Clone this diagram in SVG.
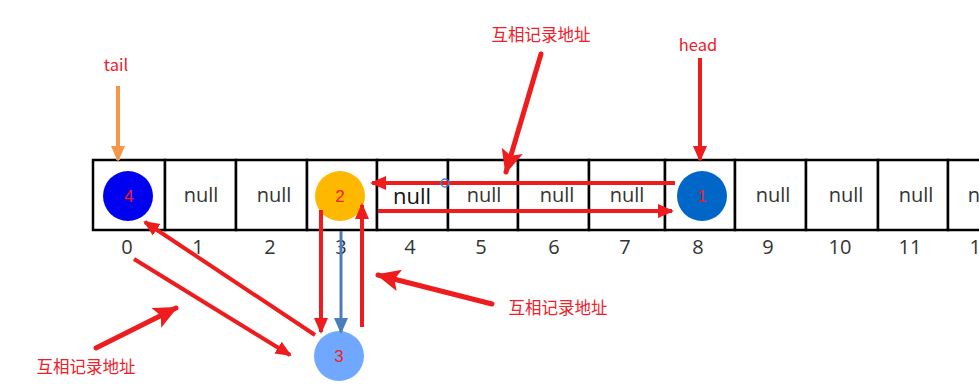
<svg xmlns="http://www.w3.org/2000/svg" width="979" height="391" viewBox="0 0 979 391">
<style>
.cell{fill:#fff;stroke:#000;stroke-width:2.5}
.null{font-family:"Open Sans","Liberation Sans",sans-serif;font-size:20px;fill:#333;text-anchor:middle}
.idx{font-family:"Open Sans","Liberation Sans",sans-serif;font-size:20px;fill:#333;text-anchor:middle}
.num{font-family:"Liberation Sans",sans-serif;font-size:17px;fill:#f02020;text-anchor:middle}
.lbl{font-family:"Noto Sans CJK SC","Open Sans",sans-serif;font-size:16.5px;fill:#f0202a;text-anchor:middle}
.red{stroke:#ee1c1c;stroke-width:4;fill:none}
.thick{stroke:#ee1c1c;stroke-width:5;fill:none;stroke-linecap:round}
</style>
<defs>
<marker id="ar" markerUnits="userSpaceOnUse" markerWidth="16" markerHeight="16" refX="14" refY="8" orient="auto"><path d="M0,1 L16,8 L0,15 Z" fill="#ee1c1c"/></marker>
<marker id="arb" markerUnits="userSpaceOnUse" markerWidth="24" markerHeight="24" refX="22" refY="12" orient="auto"><path d="M0,1 L24,12 L0,23 L5,12 Z" fill="#ee1c1c"/></marker>
<marker id="ao" markerUnits="userSpaceOnUse" markerWidth="16" markerHeight="16" refX="14" refY="8" orient="auto"><path d="M0,1 L16,8 L0,15 Z" fill="#f79646"/></marker>
<marker id="ab" markerUnits="userSpaceOnUse" markerWidth="16" markerHeight="16" refX="14" refY="8" orient="auto"><path d="M0,1 L16,8 L0,15 Z" fill="#4a7ebb"/></marker>
</defs>
<g id="array">
<rect class="cell" x="93" y="160" width="72" height="70"/>
<rect class="cell" x="165" y="160" width="71" height="70"/>
<rect class="cell" x="236" y="160" width="71" height="70"/>
<rect class="cell" x="307" y="160" width="70" height="70"/>
<rect class="cell" x="377" y="160" width="71" height="70"/>
<rect class="cell" x="448" y="160" width="70" height="70"/>
<rect class="cell" x="518" y="160" width="71" height="70"/>
<rect class="cell" x="589" y="160" width="76" height="70"/>
<rect class="cell" x="665" y="160" width="70" height="70"/>
<rect class="cell" x="735" y="160" width="71" height="70"/>
<rect class="cell" x="806" y="160" width="72" height="70"/>
<rect class="cell" x="878" y="160" width="70" height="70"/>
<rect class="cell" x="948" y="160" width="70" height="70"/>
<text class="null" x="201" y="202">null</text>
<text class="null" x="274" y="202">null</text>
<text class="null" x="412" y="204" style="font-size:22px;fill:#111">null</text>
<text class="null" x="484" y="202">null</text>
<text class="null" x="557" y="202">null</text>
<text class="null" x="627" y="202">null</text>
<text class="null" x="773" y="202">null</text>
<text class="null" x="846" y="202">null</text>
<text class="null" x="916" y="202">null</text>
<text class="null" x="985" y="202">null</text>
<text class="idx" x="127" y="254">0</text>
<text class="idx" x="198" y="254">1</text>
<text class="idx" x="270" y="254">2</text>
<text class="idx" x="341" y="254">3</text>
<text class="idx" x="410" y="254">4</text>
<text class="idx" x="481" y="254">5</text>
<text class="idx" x="554" y="254">6</text>
<text class="idx" x="625" y="254">7</text>
<text class="idx" x="698" y="254">8</text>
<text class="idx" x="768" y="254">9</text>
<text class="idx" x="840" y="254">10</text>
<text class="idx" x="910" y="254">11</text>
<text class="idx" x="981" y="254">12</text>
</g>
<g id="node4"><circle cx="128" cy="196" r="25" fill="#0000f0"/><text class="num" x="129" y="202">4</text></g>
<g id="node2"><circle cx="340" cy="196" r="25" fill="#ffb800"/><text class="num" x="340" y="202">2</text></g>
<g id="node1"><circle cx="702" cy="196" r="25" fill="#0066c8"/><text class="num" x="702" y="202">1</text></g>
<g id="node3"><circle cx="339" cy="356" r="25" fill="#70a8ff"/><text class="num" x="339" y="362">3</text></g>
<g id="labels">
<text class="lbl" x="116" y="71" font-family="Open Sans,Liberation Sans,sans-serif">tail</text>
<text class="lbl" x="698" y="51">head</text>
<text class="lbl" x="541" y="41">互相记录地址</text>
<text class="lbl" x="86" y="373">互相记录地址</text>
<text class="lbl" x="558" y="314">互相记录地址</text>
</g>
<g id="connectors">
<line x1="118" y1="86" x2="118" y2="160" stroke="#f79646" stroke-width="4" marker-end="url(#ao)"/>
<line class="red" x1="700" y1="58" x2="700" y2="160" marker-end="url(#ar)"/>
<line class="thick" x1="541" y1="54" x2="506" y2="172" marker-end="url(#arb)"/>
<line class="red" x1="675" y1="183" x2="372" y2="183" marker-end="url(#ar)"/>
<line class="red" x1="378" y1="211" x2="672" y2="211" marker-end="url(#ar)"/>
<line class="red" x1="321" y1="210" x2="321" y2="332" marker-end="url(#ar)"/>
<line x1="341" y1="231" x2="341" y2="332" stroke="#4a7ebb" stroke-width="3" marker-end="url(#ab)"/>
<line class="red" x1="362" y1="327" x2="362" y2="205" marker-end="url(#ar)"/>
<line class="red" x1="315" y1="335" x2="145" y2="222" marker-end="url(#ar)"/>
<line class="red" x1="134" y1="259" x2="290" y2="355" marker-end="url(#ar)"/>
<line class="thick" x1="96" y1="348" x2="176" y2="308" marker-end="url(#arb)"/>
<line class="thick" x1="492" y1="304" x2="378" y2="275" marker-end="url(#arb)"/>
<circle cx="445" cy="183" r="4" fill="none" stroke="#3b7ddd" stroke-width="1.5"/>
</g>
</svg>
